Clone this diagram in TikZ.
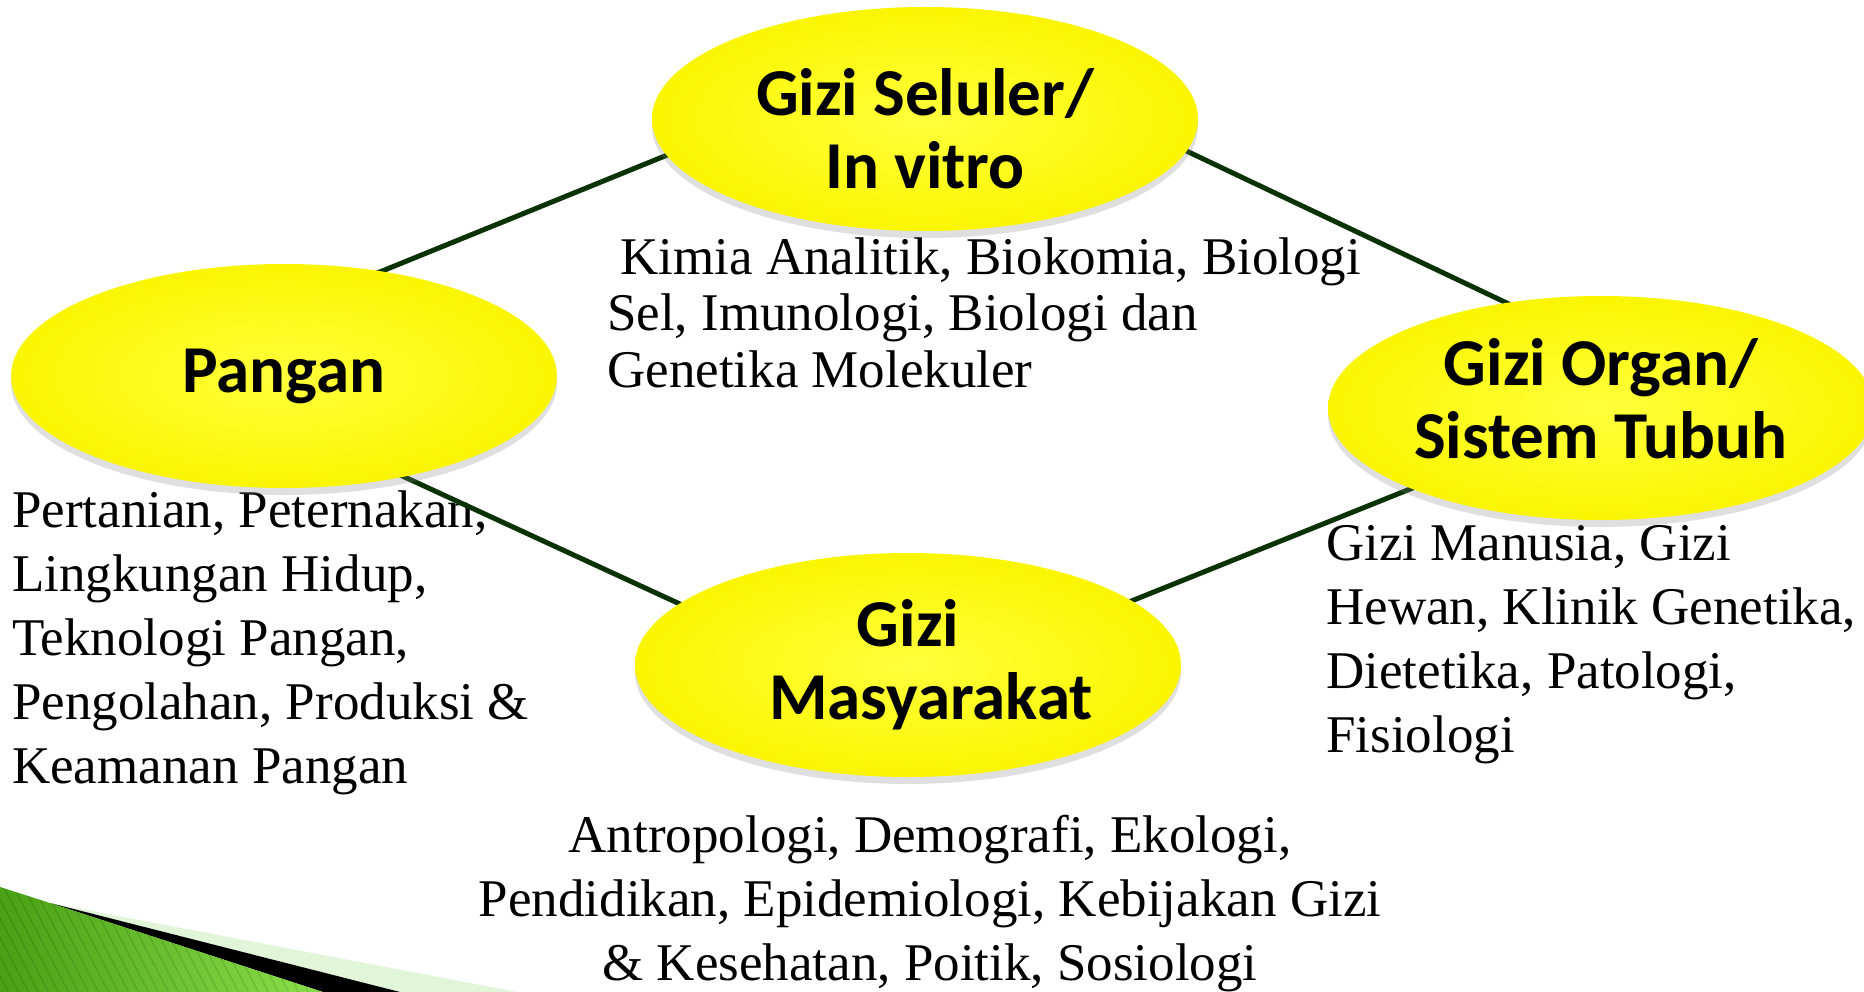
\documentclass[tikz,border=0pt]{standalone}
\usepackage{fontspec}
\setmainfont{Liberation Serif}
\newfontfamily\judulfont{Carlito}
\usetikzlibrary{shapes.geometric,shadows,backgrounds}
\definecolor{kuningmuda}{RGB}{255,255,60}
\definecolor{kuningtua}{RGB}{250,246,0}
\definecolor{garis}{RGB}{10,50,5}
\definecolor{hijautua}{RGB}{72,160,20}
\definecolor{hijaumuda}{RGB}{140,225,75}
\definecolor{hijaupucat}{RGB}{225,245,216}
\tikzset{
  gizi/.style={ellipse, minimum width=546pt, minimum height=224pt, inner sep=0pt,
    align=center, font=\judulfont\bfseries\fontsize{67}{73}\selectfont,
    shade, shading=radial, inner color=kuningmuda, outer color=kuningtua,
    drop shadow={shadow xshift=0pt, shadow yshift=-7pt, opacity=.25}},
  ket/.style={inner sep=0pt, font=\fontsize{53}{64}\selectfont},
  hubung/.style={line width=5pt, draw=garis, shorten <=-8pt, shorten >=-8pt}
}
\begin{document}
\begin{tikzpicture}[x=1pt,y=-1pt]
\useasboundingbox (0,0) rectangle (1864,992);
% lingkaran
\node[gizi] (seluler) at (925,119) {\rule{0pt}{66pt}Gizi Seluler/\\In vitro};
\node[gizi] (pangan) at (284,376) {Pangan};
\node[gizi] (organ) at (1601,408) {Gizi Organ/\\Sistem Tubuh\rule[-20pt]{0pt}{20pt}};
\node[gizi] (masyarakat) at (908,665) {Gizi\\\hspace*{46pt}Masyarakat};
\begin{scope}[on background layer]
\fill[white] (0,0) rectangle (1864,992);
% hiasan kiri bawah
\fill[hijaupucat] (50,903) -- (517,992) -- (323,992) -- cycle;
\fill[black] (50,903) -- (400,992) -- (323,992) -- cycle;
\begin{scope}
\clip (0,887) -- (50,903) -- (323,992) -- (0,992) -- cycle;
\shade[left color=hijautua, right color=hijaumuda] (0,880) rectangle (330,992);
\foreach \i in {-80,-70,...,330}
  \draw[black, opacity=.12, line width=1.2pt] (\i,880) -- ++(60,115);
\end{scope}
% keterangan
\node[ket, anchor=base west, align=left, font=\fontsize{53}{57}\selectfont] (ketseluler) at (607,388)
  {\hspace*{.25em}Kimia Analitik, Biokomia, Biologi\\Sel, Imunologi, Biologi dan\\Genetika Molekuler};
\node[ket, anchor=base west, align=left] (ketpangan) at (12,783)
  {Pertanian, Peternakan,\\Lingkungan Hidup,\\Teknologi Pangan,\\Pengolahan, Produksi \&\\Keamanan Pangan};
\node[ket, anchor=base west, align=left] (ketorgan) at (1326,752)
  {Gizi Manusia, Gizi\\Hewan, Klinik Genetika,\\Dietetika, Patologi,\\Fisiologi};
\node[ket, anchor=base, align=center] (ketmasyarakat) at (930,980)
  {Antropologi, Demografi, Ekologi,\\Pendidikan, Epidemiologi, Kebijakan Gizi\\\& Kesehatan, Poitik, Sosiologi};
% garis penghubung
\draw[hubung] (pangan.47.6) -- (seluler.188);
\draw[hubung] (seluler.-7.9) -- (organ.132.7);
\draw[hubung] (pangan.-40) -- (masyarakat.165.6);
\draw[hubung] (masyarakat.16.3) -- (organ.203.5);
\end{scope}
\end{tikzpicture}
\end{document}
